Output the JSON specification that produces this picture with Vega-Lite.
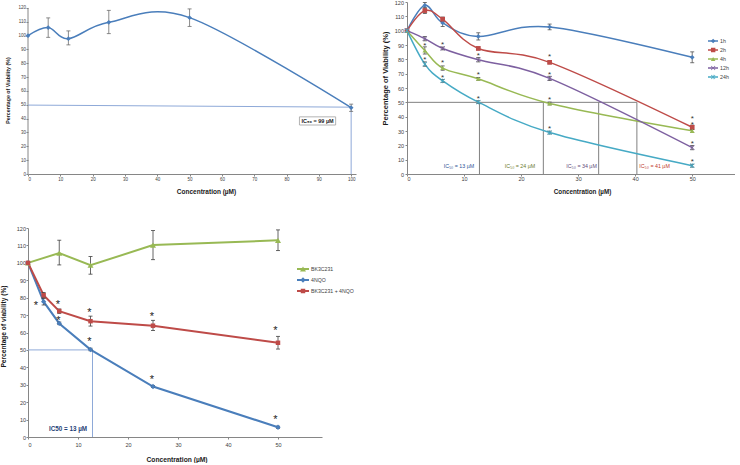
{
  "$schema": "https://vega.github.io/schema/vega-lite/v6.json",
  "background": "white",
  "padding": {"left": 0, "top": 0, "right": 0, "bottom": 0},
  "config": {
    "view": {"stroke": null},
    "font": "Liberation Sans",
    "axis": {"grid": false, "domainColor": "#868686", "tickColor": "#868686", "tickSize": 2, "labelColor": "#404040", "titleColor": "#1a1a1a", "titleFontWeight": "bold", "titleBaseline": "middle", "titleAlign": "center"},
    "legend": {"padding": 0, "labelColor": "#404040", "title": null}
  },
  "datasets": {
    "p1": [
      {"conc": 0, "v": 100},
      {"conc": 6.25, "v": 105.8, "lo": 98.8, "hi": 112.8},
      {"conc": 12.5, "v": 97.8, "lo": 93.3, "hi": 103.4},
      {"conc": 25, "v": 109.6, "lo": 101.4, "hi": 118.3},
      {"conc": 50, "v": 113, "lo": 106.7, "hi": 119.3},
      {"conc": 100, "v": 47.9, "lo": 45.3, "hi": 50.5}
    ],
    "p1axis": [{"conc": 0, "v": 0, "conc2": 0, "v2": 120}],
    "p1seg": [
      {"conc": 0, "v": 49.8, "conc2": 100, "v2": 48.3},
      {"conc": 100, "v": 48, "conc2": 100, "v2": 0}
    ],
    "p1box": [{"conc": 84, "v": 35.4, "conc2": 95.2, "v2": 41.3, "tx": 89.6, "ty": 38.3, "label": "IC₅₀ = 99 µM"}],
    "p2": [
      {"series": "1h", "conc": 0, "v": 100},
      {"series": "1h", "conc": 3.125, "v": 117.7, "lo": 115.7, "hi": 119.7},
      {"series": "1h", "conc": 6.25, "v": 105.4, "lo": 102.9, "hi": 107.9},
      {"series": "1h", "conc": 12.5, "v": 96, "lo": 93.5, "hi": 98.5},
      {"series": "1h", "conc": 25, "v": 102.6, "lo": 100.6, "hi": 104.6},
      {"series": "1h", "conc": 50, "v": 81.4, "lo": 77.6, "hi": 85.2},
      {"series": "2h", "conc": 0, "v": 100},
      {"series": "2h", "conc": 3.125, "v": 114, "lo": 112, "hi": 116},
      {"series": "2h", "conc": 6.25, "v": 108, "lo": 106.5, "hi": 109.5},
      {"series": "2h", "conc": 12.5, "v": 87.6, "lo": 86.6, "hi": 88.6},
      {"series": "2h", "conc": 25, "v": 77.9, "lo": 76.9, "hi": 78.9},
      {"series": "2h", "conc": 50, "v": 32.6, "lo": 31.1, "hi": 34.1},
      {"series": "4h", "conc": 0, "v": 100},
      {"series": "4h", "conc": 3.125, "v": 86.2, "lo": 83.7, "hi": 88.7},
      {"series": "4h", "conc": 6.25, "v": 73.9, "lo": 72.4, "hi": 75.4},
      {"series": "4h", "conc": 12.5, "v": 66.4, "lo": 65.4, "hi": 67.4},
      {"series": "4h", "conc": 25, "v": 49.2, "lo": 48.2, "hi": 50.2},
      {"series": "4h", "conc": 50, "v": 30.1, "lo": 29.1, "hi": 31.1},
      {"series": "12h", "conc": 0, "v": 100},
      {"series": "12h", "conc": 3.125, "v": 94.4, "lo": 92.9, "hi": 95.9},
      {"series": "12h", "conc": 6.25, "v": 87.6, "lo": 86.6, "hi": 88.6},
      {"series": "12h", "conc": 12.5, "v": 79.7, "lo": 78.2, "hi": 81.2},
      {"series": "12h", "conc": 25, "v": 66.7, "lo": 65.2, "hi": 68.2},
      {"series": "12h", "conc": 50, "v": 18.4, "lo": 16.9, "hi": 19.9},
      {"series": "24h", "conc": 0, "v": 100},
      {"series": "24h", "conc": 3.125, "v": 76.7, "lo": 75.2, "hi": 78.2},
      {"series": "24h", "conc": 6.25, "v": 65, "lo": 64, "hi": 66},
      {"series": "24h", "conc": 12.5, "v": 50.1, "lo": 49.1, "hi": 51.1},
      {"series": "24h", "conc": 25, "v": 28.9, "lo": 27.9, "hi": 29.9},
      {"series": "24h", "conc": 50, "v": 5.8, "lo": 4.8, "hi": 6.8}
    ],
    "p2stars": [
      {"conc": 3.125, "v": 91.1}, {"conc": 3.125, "v": 81.6},
      {"conc": 6.25, "v": 92.1}, {"conc": 6.25, "v": 79}, {"conc": 6.25, "v": 68.8},
      {"conc": 12.5, "v": 84.4}, {"conc": 12.5, "v": 70.9}, {"conc": 12.5, "v": 54.1},
      {"conc": 25, "v": 83.7}, {"conc": 25, "v": 71.1}, {"conc": 25, "v": 53.6}, {"conc": 25, "v": 32.9},
      {"conc": 50, "v": 40.3}, {"conc": 50, "v": 36.1}, {"conc": 50, "v": 22.6}, {"conc": 50, "v": 10.3}
    ],
    "p2ic": [
      {"conc": 0, "v": 50, "conc2": 40.3, "v2": 50},
      {"conc": 12.7, "v": 50, "conc2": 12.7, "v2": 0},
      {"conc": 23.9, "v": 50, "conc2": 23.9, "v2": 0},
      {"conc": 33.6, "v": 50, "conc2": 33.6, "v2": 0},
      {"conc": 40.3, "v": 50, "conc2": 40.3, "v2": 0}
    ],
    "p2iclabels": [
      {"conc": 9.1, "v": 5.6, "series": "24h", "label": "IC₅₀ = 13 µM"},
      {"conc": 19.8, "v": 5.6, "series": "4h", "label": "IC₅₀ = 24 µM"},
      {"conc": 30.6, "v": 5.6, "series": "12h", "label": "IC₅₀ = 34 µM"},
      {"conc": 43.4, "v": 5.6, "series": "2h", "label": "IC₅₀ = 41 µM"}
    ],
    "p3": [
      {"series": "BK3C231", "conc": 0, "v": 100},
      {"series": "BK3C231", "conc": 6.25, "v": 105.6, "lo": 98.8, "hi": 113},
      {"series": "BK3C231", "conc": 12.5, "v": 98.6, "lo": 93.5, "hi": 103.6},
      {"series": "BK3C231", "conc": 25, "v": 110.2, "lo": 101.8, "hi": 118.5},
      {"series": "BK3C231", "conc": 50, "v": 112.9, "lo": 107, "hi": 118.9},
      {"series": "4NQO", "conc": 0, "v": 100},
      {"series": "4NQO", "conc": 3.125, "v": 77.7, "lo": 75.8, "hi": 79.5},
      {"series": "4NQO", "conc": 6.25, "v": 65.2, "lo": 64.5, "hi": 66},
      {"series": "4NQO", "conc": 12.5, "v": 50.2, "lo": 49.5, "hi": 51},
      {"series": "4NQO", "conc": 25, "v": 29, "lo": 28.4, "hi": 29.6},
      {"series": "4NQO", "conc": 50, "v": 5.6, "lo": 5, "hi": 6.2},
      {"series": "BK3C231 + 4NQO", "conc": 0, "v": 100},
      {"series": "BK3C231 + 4NQO", "conc": 3.125, "v": 81.4, "lo": 80, "hi": 83},
      {"series": "BK3C231 + 4NQO", "conc": 6.25, "v": 72.3, "lo": 71, "hi": 73.5},
      {"series": "BK3C231 + 4NQO", "conc": 12.5, "v": 66.5, "lo": 63.7, "hi": 69.4},
      {"series": "BK3C231 + 4NQO", "conc": 25, "v": 63.9, "lo": 61.2, "hi": 67},
      {"series": "BK3C231 + 4NQO", "conc": 50, "v": 54.1, "lo": 50.5, "hi": 57.8}
    ],
    "p3stars": [
      {"conc": 1.6, "v": 77.2}, {"conc": 6.0, "v": 77.8}, {"conc": 6.1, "v": 68.6},
      {"conc": 12.3, "v": 73.2}, {"conc": 12.3, "v": 56.2},
      {"conc": 24.8, "v": 70.9}, {"conc": 24.8, "v": 34.5},
      {"conc": 49.5, "v": 62.5}, {"conc": 49.5, "v": 11.4}
    ],
    "p3ic": [
      {"conc": 0, "v": 50, "conc2": 12.9, "v2": 50},
      {"conc": 12.9, "v": 50, "conc2": 12.9, "v2": 0}
    ],
    "p3label": [{"conc": 8, "v": 4.6, "label": "IC50 = 13 µM"}]
  },
  "columns": 2,
  "spacing": {"row": 54, "column": 51},
  "bounds": "flush",
  "resolve": {
    "scale": {"x": "independent", "y": "independent", "color": "independent", "stroke": "independent", "shape": "independent", "fill": "independent", "size": "independent"},
    "legend": {"color": "independent", "stroke": "independent", "shape": "independent", "fill": "independent"}
  },
  "concat": [
    {
      "width": 328,
      "height": 172,
      "encoding": {
        "x": {"field": "conc", "type": "quantitative", "scale": {"domain": [0, 101.5], "nice": false, "zero": false},
          "axis": {"values": [0, 10, 20, 30, 40, 50, 60, 70, 80, 90, 100], "title": "Concentration (µM)", "labelFontSize": 4.5, "labelPadding": 0.5, "titleFontSize": 6.5, "titleX": 178, "titleY": 17}},
        "y": {"field": "v", "type": "quantitative", "scale": {"domain": [0, 124.3], "nice": false},
          "axis": {"values": [0, 10, 20, 30, 40, 50, 60, 70, 80, 90, 100, 110, 120], "domain": false, "title": "Percentage of Viability (%)", "labelFontSize": 4.5, "labelPadding": 0.5, "titleFontSize": 5.3, "titleX": -21, "titleY": 88}}
      },
      "layer": [
        {"data": {"name": "p1axis"}, "mark": {"type": "rule", "color": "#868686", "strokeWidth": 1}, "encoding": {"x2": {"field": "conc2"}, "y2": {"field": "v2"}}},
        {"data": {"name": "p1seg"}, "mark": {"type": "rule", "color": "#8EA9D8", "strokeWidth": 1}, "encoding": {"x2": {"field": "conc2"}, "y2": {"field": "v2"}}},
        {"data": {"name": "p1box"}, "mark": {"type": "rect", "fill": "white", "stroke": "#a0a0a0", "strokeWidth": 0.8}, "encoding": {"x2": {"field": "conc2"}, "y2": {"field": "v2"}}},
        {"data": {"name": "p1box"}, "mark": {"type": "text", "fontSize": 5.5, "fontWeight": "bold", "color": "#222222", "baseline": "middle"}, "encoding": {"x": {"field": "tx", "type": "quantitative"}, "y": {"field": "ty", "type": "quantitative"}, "text": {"field": "label"}}},
        {"data": {"name": "p1"}, "mark": {"type": "line", "color": "#4A7EBB", "strokeWidth": 1.5, "interpolate": "cardinal"}},
        {"data": {"name": "p1"}, "mark": {"type": "rule", "color": "#6d6d6d", "strokeWidth": 0.8}, "encoding": {"y": {"field": "lo", "type": "quantitative"}, "y2": {"field": "hi"}}},
        {"data": {"name": "p1"}, "mark": {"type": "tick", "orient": "horizontal", "size": 4, "thickness": 0.8, "color": "#6d6d6d", "opacity": 1}, "encoding": {"y": {"field": "lo", "type": "quantitative"}}},
        {"data": {"name": "p1"}, "mark": {"type": "tick", "orient": "horizontal", "size": 4, "thickness": 0.8, "color": "#6d6d6d", "opacity": 1}, "encoding": {"y": {"field": "hi", "type": "quantitative"}}},
        {"data": {"name": "p1"}, "mark": {"type": "point", "shape": "diamond", "filled": true, "size": 22, "color": "#4A7EBB", "opacity": 1}}
      ]
    },
    {
      "width": 328,
      "height": 172,
      "encoding": {
        "x": {"field": "conc", "type": "quantitative", "scale": {"domain": [0, 57.5], "nice": false, "zero": false},
          "axis": {"values": [0, 10, 20, 30, 40, 50], "title": "Concentration (µM)", "labelFontSize": 5.5, "labelPadding": 0.5, "titleFontSize": 6.3, "titleX": 175, "titleY": 17}},
        "y": {"field": "v", "type": "quantitative", "scale": {"domain": [0, 120], "nice": false},
          "axis": {"values": [0, 10, 20, 30, 40, 50, 60, 70, 80, 90, 100, 110, 120], "title": "Percentage of Viability (%)", "labelFontSize": 5.5, "labelPadding": 1.5, "titleFontSize": 7.5, "titleX": -22, "titleY": 76}}
      },
      "layer": [
        {"data": {"name": "p2ic"}, "mark": {"type": "rule", "color": "#808080", "strokeWidth": 1}, "encoding": {"x2": {"field": "conc2"}, "y2": {"field": "v2"}}},
        {"data": {"name": "p2iclabels"}, "mark": {"type": "text", "fontSize": 5.3, "baseline": "middle"},
          "encoding": {"text": {"field": "label"}, "fill": {"field": "series", "type": "nominal", "scale": {"domain": ["24h", "4h", "12h", "2h"], "range": ["#2E5597", "#6B7A2E", "#5F4B7A", "#C0392B"]}, "legend": null}}},
        {"data": {"name": "p2"}, "mark": {"type": "line", "strokeWidth": 1.5, "interpolate": "cardinal"},
          "encoding": {"stroke": {"field": "series", "type": "nominal", "sort": ["1h", "2h", "4h", "12h", "24h"], "scale": {"range": ["#4A7EBB", "#BE4B48", "#98B954", "#7D60A0", "#46AAC5"]},
            "legend": {"orient": "none", "legendX": 300, "legendY": 34.5, "direction": "vertical", "symbolType": "stroke", "symbolSize": 100, "symbolStrokeWidth": 1.5, "labelOffset": 1, "labelFontSize": 5.3, "clipHeight": 9, "rowPadding": 0}}}},
        {"data": {"name": "p2"}, "mark": {"type": "rule", "color": "#505050", "strokeWidth": 0.8}, "encoding": {"y": {"field": "lo", "type": "quantitative"}, "y2": {"field": "hi"}}},
        {"data": {"name": "p2"}, "mark": {"type": "tick", "orient": "horizontal", "size": 4, "thickness": 0.8, "color": "#505050", "opacity": 1}, "encoding": {"y": {"field": "lo", "type": "quantitative"}}},
        {"data": {"name": "p2"}, "mark": {"type": "tick", "orient": "horizontal", "size": 4, "thickness": 0.8, "color": "#505050", "opacity": 1}, "encoding": {"y": {"field": "hi", "type": "quantitative"}}},
        {"data": {"name": "p2"}, "mark": {"type": "point", "filled": true, "size": 22, "opacity": 1},
          "encoding": {
            "color": {"field": "series", "type": "nominal", "scale": {"domain": ["1h", "2h", "4h", "12h", "24h"], "range": ["#4A7EBB", "#BE4B48", "#98B954", "#7D60A0", "#46AAC5"]},
              "legend": {"orient": "none", "legendX": 303.5, "legendY": 34.5, "direction": "vertical", "symbolSize": 20, "symbolStrokeWidth": 0, "labelOpacity": 0, "labelFontSize": 5.3, "clipHeight": 9, "rowPadding": 0}},
            "shape": {"field": "series", "type": "nominal", "scale": {"domain": ["1h", "2h", "4h", "12h", "24h"], "range": ["diamond", "square", "triangle-up", "M-1,-0.8L-0.8,-1L1,0.8L0.8,1ZM-0.8,1L-1,0.8L0.8,-1L1,-0.8Z", "M-1,-0.8L-0.8,-1L1,0.8L0.8,1ZM-0.8,1L-1,0.8L0.8,-1L1,-0.8ZM-0.12,-1L0.12,-1L0.12,1L-0.12,1Z"]},
              "legend": {"orient": "none", "legendX": 303.5, "legendY": 34.5, "direction": "vertical", "symbolSize": 20, "symbolStrokeWidth": 0, "labelOpacity": 0, "labelFontSize": 5.3, "clipHeight": 9, "rowPadding": 0}}
          }},
        {"data": {"name": "p2stars"}, "mark": {"type": "text", "text": "*", "fontSize": 8, "baseline": "alphabetic", "dy": 4.6, "color": "#333333"}}
      ]
    },
    {
      "width": 294,
      "height": 209,
      "encoding": {
        "x": {"field": "conc", "type": "quantitative", "scale": {"domain": [0, 58.8], "nice": false, "zero": false},
          "axis": {"values": [0, 10, 20, 30, 40, 50], "title": "Concentration (µM)", "labelFontSize": 5.5, "labelPadding": 3, "titleFontSize": 6.7, "titleX": 148.5, "titleY": 22.3}},
        "y": {"field": "v", "type": "quantitative", "scale": {"domain": [0, 120], "nice": false},
          "axis": {"values": [0, 10, 20, 30, 40, 50, 60, 70, 80, 90, 100, 110, 120], "title": "Percentage of viability (%)", "labelFontSize": 5.5, "labelPadding": 0.5, "titleFontSize": 6.6, "titleX": -25, "titleY": 98}}
      },
      "layer": [
        {"data": {"name": "p3ic"}, "mark": {"type": "rule", "color": "#8EA9D8", "strokeWidth": 1}, "encoding": {"x2": {"field": "conc2"}, "y2": {"field": "v2"}}},
        {"data": {"name": "p3label"}, "mark": {"type": "text", "fontSize": 6.3, "fontWeight": "bold", "color": "#1F3F77", "baseline": "middle"}, "encoding": {"text": {"field": "label"}}},
        {"data": {"name": "p3"}, "mark": {"type": "line", "strokeWidth": 2},
          "encoding": {"stroke": {"field": "series", "type": "nominal", "sort": ["BK3C231", "4NQO", "BK3C231 + 4NQO"], "scale": {"range": ["#98B954", "#4A7EBB", "#BE4B48"]},
            "legend": {"orient": "none", "legendX": 268, "legendY": 35.75, "direction": "vertical", "symbolType": "stroke", "symbolSize": 144, "symbolStrokeWidth": 2, "labelOffset": 1, "labelFontSize": 5.2, "clipHeight": 10.5, "rowPadding": 0}}}},
        {"data": {"name": "p3"}, "mark": {"type": "rule", "color": "#404040", "strokeWidth": 0.8}, "encoding": {"y": {"field": "lo", "type": "quantitative"}, "y2": {"field": "hi"}}},
        {"data": {"name": "p3"}, "mark": {"type": "tick", "orient": "horizontal", "size": 4, "thickness": 0.8, "color": "#404040", "opacity": 1}, "encoding": {"y": {"field": "lo", "type": "quantitative"}}},
        {"data": {"name": "p3"}, "mark": {"type": "tick", "orient": "horizontal", "size": 4, "thickness": 0.8, "color": "#404040", "opacity": 1}, "encoding": {"y": {"field": "hi", "type": "quantitative"}}},
        {"data": {"name": "p3"}, "mark": {"type": "point", "filled": true, "opacity": 1},
          "encoding": {
            "color": {"field": "series", "type": "nominal", "scale": {"domain": ["BK3C231", "4NQO", "BK3C231 + 4NQO"], "range": ["#98B954", "#4A7EBB", "#BE4B48"]},
              "legend": {"orient": "none", "legendX": 272, "legendY": 35.75, "direction": "vertical", "symbolSize": 30, "symbolStrokeWidth": 0, "labelOpacity": 0, "labelFontSize": 5.2, "clipHeight": 10.5, "rowPadding": 0}},
            "shape": {"field": "series", "type": "nominal", "scale": {"domain": ["BK3C231", "4NQO", "BK3C231 + 4NQO"], "range": ["triangle-up", "diamond", "square"]},
              "legend": {"orient": "none", "legendX": 272, "legendY": 35.75, "direction": "vertical", "symbolSize": 30, "symbolStrokeWidth": 0, "labelOpacity": 0, "labelFontSize": 5.2, "clipHeight": 10.5, "rowPadding": 0}},
            "size": {"field": "series", "type": "nominal", "scale": {"domain": ["BK3C231", "4NQO", "BK3C231 + 4NQO"], "range": [36, 20, 40]}, "legend": null}
          }},
        {"data": {"name": "p3stars"}, "mark": {"type": "text", "text": "*", "fontSize": 11, "baseline": "alphabetic", "dy": 6.3, "color": "#222222"}}
      ]
    }
  ]
}
